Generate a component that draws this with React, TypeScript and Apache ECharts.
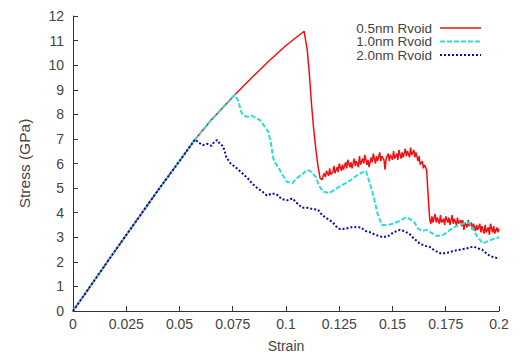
import React, { useEffect, useRef } from "react";
import * as echarts from "echarts";

// Shared elastic branch (strain, stress GPa)
const elastic: [number, number][] = [
  [0, 0], [0.01, 1.24], [0.02, 2.48], [0.03, 3.7], [0.04, 4.92], [0.05, 6.1],
  [0.0573, 6.98], [0.065, 7.78], [0.076, 8.8], [0.084, 9.5], [0.092, 10.17],
  [0.1, 10.8], [0.1085, 11.38],
];

// 0.5nm Rvoid after peak
const post05: [number, number][] = [
  [0.11, 10.6], [0.111, 9.6], [0.112, 8.4], [0.113, 7.4], [0.114, 6.6], [0.115, 5.9], [0.116, 5.4],
  [0.117, 5.35], [0.1178, 5.6], [0.1185, 5.45], [0.119, 5.7], [0.12, 5.5], [0.1205, 5.8], [0.121, 5.55],
  [0.122, 5.65], [0.1225, 5.9], [0.123, 5.6], [0.124, 5.85], [0.1245, 5.65], [0.125, 6.0], [0.126, 5.7],
  [0.1265, 5.95], [0.127, 5.75], [0.128, 6.05], [0.1285, 5.8], [0.129, 6.15], [0.13, 5.85], [0.1305, 6.05],
  [0.131, 5.8], [0.132, 6.2], [0.1325, 5.9], [0.133, 6.1], [0.134, 5.85], [0.1345, 6.3], [0.135, 5.95],
  [0.136, 6.2], [0.1365, 6.0], [0.137, 6.35], [0.138, 5.95], [0.1385, 6.15], [0.139, 5.85], [0.14, 6.25],
  [0.1405, 6.05], [0.141, 6.4], [0.142, 6.0], [0.1425, 6.3], [0.143, 6.1], [0.144, 6.45], [0.1445, 6.1],
  [0.145, 6.3], [0.146, 6.15], [0.1465, 5.75], [0.147, 6.2], [0.148, 6.4], [0.1485, 6.1], [0.149, 6.35],
  [0.15, 6.15], [0.1505, 6.5], [0.151, 6.2], [0.152, 6.4], [0.1525, 6.15], [0.153, 6.55], [0.154, 6.2],
  [0.1545, 6.45], [0.155, 6.25], [0.156, 6.6], [0.1565, 6.3], [0.157, 6.5], [0.158, 6.25], [0.1585, 6.65],
  [0.159, 6.35], [0.16, 6.55], [0.1605, 6.25], [0.161, 6.45], [0.162, 6.1], [0.1625, 6.3], [0.163, 5.95],
  [0.164, 6.1], [0.1645, 5.8], [0.165, 5.95], [0.166, 5.75], [0.1668, 4.6], [0.1675, 3.7],
  [0.168, 3.55], [0.1685, 3.85], [0.169, 3.6], [0.17, 3.95], [0.1705, 3.6], [0.171, 3.8], [0.172, 3.55],
  [0.1725, 3.9], [0.173, 3.6], [0.174, 3.75], [0.1745, 3.5], [0.175, 3.85], [0.176, 3.6], [0.1765, 3.8],
  [0.177, 3.5], [0.178, 3.9], [0.1785, 3.55], [0.179, 3.75], [0.18, 3.5], [0.1805, 3.8], [0.181, 3.55],
  [0.182, 3.7], [0.1825, 3.45], [0.183, 3.7], [0.1835, 3.3], [0.184, 3.6], [0.185, 3.4], [0.1855, 3.7],
  [0.186, 3.45], [0.187, 3.6], [0.1875, 3.3], [0.188, 3.55], [0.189, 3.25], [0.1895, 3.5], [0.19, 3.3],
  [0.191, 3.55], [0.1915, 3.2], [0.192, 3.45], [0.193, 3.15], [0.1935, 3.5], [0.194, 3.2], [0.195, 3.4],
  [0.1955, 3.1], [0.196, 3.55], [0.197, 3.2], [0.1975, 3.45], [0.198, 3.15], [0.199, 3.4], [0.1995, 3.2],
  [0.2, 3.35],
];

// 1.0nm Rvoid after leaving elastic branch
const post10: [number, number][] = [
  [0.0775, 8.55], [0.079, 8.1], [0.08, 7.95], [0.082, 7.9], [0.084, 7.95], [0.086, 7.85], [0.088, 7.75],
  [0.09, 7.5], [0.0916, 7.3], [0.0928, 6.9], [0.094, 6.2], [0.0955, 5.95], [0.097, 5.75], [0.099, 5.45],
  [0.1005, 5.25], [0.103, 5.2], [0.105, 5.4], [0.1075, 5.55], [0.11, 5.75], [0.112, 5.65], [0.114, 5.45],
  [0.1155, 5.1], [0.1175, 4.85], [0.1205, 4.8], [0.124, 5.0], [0.127, 5.15], [0.13, 5.3], [0.133, 5.5],
  [0.136, 5.65], [0.1375, 5.7], [0.139, 5.3], [0.141, 4.7], [0.143, 3.95], [0.145, 3.5], [0.148, 3.5],
  [0.15, 3.55], [0.153, 3.65], [0.156, 3.8], [0.158, 3.75], [0.16, 3.65], [0.162, 3.35], [0.164, 3.25],
  [0.166, 3.3], [0.168, 3.2], [0.171, 3.05], [0.174, 3.1], [0.177, 3.3], [0.18, 3.45], [0.183, 3.55],
  [0.186, 3.6], [0.188, 3.3], [0.19, 3.0], [0.1925, 2.75], [0.195, 2.85], [0.198, 2.95], [0.2, 3.0],
];

// 2.0nm Rvoid after leaving elastic branch
const post20: [number, number][] = [
  [0.059, 6.85], [0.061, 6.75], [0.063, 6.8], [0.065, 6.72], [0.0665, 6.9], [0.0678, 6.95], [0.069, 6.8],
  [0.0705, 6.7], [0.072, 6.25], [0.074, 6.0], [0.077, 5.8], [0.0795, 5.6], [0.082, 5.4], [0.084, 5.2],
  [0.0865, 5.0], [0.089, 4.85], [0.091, 4.7], [0.0935, 4.78], [0.0955, 4.75], [0.098, 4.55], [0.1005, 4.5],
  [0.103, 4.58], [0.105, 4.4], [0.1075, 4.2], [0.11, 4.2], [0.1125, 4.15], [0.115, 4.12], [0.117, 3.9],
  [0.1195, 3.75], [0.122, 3.6], [0.124, 3.4], [0.1255, 3.33], [0.128, 3.35], [0.1315, 3.42], [0.135, 3.4],
  [0.1375, 3.25], [0.1395, 3.2], [0.142, 3.1], [0.1455, 3.0], [0.148, 3.05], [0.1505, 3.2], [0.1535, 3.3],
  [0.1555, 3.25], [0.158, 3.13], [0.16, 2.95], [0.163, 2.73], [0.1655, 2.65], [0.1676, 2.6], [0.17, 2.45],
  [0.173, 2.33], [0.176, 2.38], [0.179, 2.45], [0.182, 2.5], [0.185, 2.55], [0.188, 2.62], [0.19, 2.55],
  [0.192, 2.5], [0.194, 2.35], [0.196, 2.22], [0.198, 2.18], [0.2, 2.13],
];

const seriesNames = ["0.5nm Rvoid", "1.0nm Rvoid", "2.0nm Rvoid"];
const splitStrain = [0.1085, 0.076, 0.0573];
const postData = [post05, post10, post20];
const colors = ["#f01010", "#30dcd8", "#0a0aa8"];
const dashes: any[] = ["solid", [5, 2], [2, 2]];
const lineWidths = [1.5, 2, 2];

const FONT = '"Liberation Sans", Arial, sans-serif';

export default function App() {
  const ref = useRef<HTMLDivElement>(null);
  useEffect(() => {
    if (!ref.current) return;
    const chart = echarts.init(ref.current, undefined, { renderer: "svg" });
    const series = seriesNames.map((name, i) => ({
      name,
      type: "line",
      showSymbol: false,
      symbol: "none",
      z: 2 + i,
      data: [...elastic.filter((p) => p[0] <= splitStrain[i] + 1e-9), ...postData[i]],
      lineStyle: { color: colors[i], width: lineWidths[i], type: dashes[i] },
      itemStyle: { color: colors[i] },
    }));
    const legendY = [28, 41.5, 55];
    const legendGraphics: any[] = [];
    seriesNames.forEach((name, i) => {
      legendGraphics.push({
        type: "text",
        x: 432,
        y: legendY[i],
        style: { text: name, align: "right", verticalAlign: "middle", font: `13.5px ${FONT}`, fill: "#444" },
      });
      legendGraphics.push({
        type: "line",
        shape: { x1: 440, y1: legendY[i], x2: 481, y2: legendY[i] },
        style: { stroke: colors[i], lineWidth: lineWidths[i], lineDash: dashes[i] === "solid" ? null : dashes[i] },
      });
    });
    const axisCommon = {
      axisLine: { show: true, lineStyle: { color: "#333", width: 1 } },
      axisTick: { show: true, inside: true, length: 5, lineStyle: { color: "#333" } },
      splitLine: { show: false },
    };
    chart.setOption({
      animation: false,
      backgroundColor: "#ffffff",
      grid: { left: 73, right: 23, top: 16, bottom: 43, containLabel: false },
      xAxis: {
        type: "value",
        min: 0,
        max: 0.2,
        interval: 0.025,
        name: "Strain",
        nameLocation: "middle",
        nameGap: 28,
        nameTextStyle: { color: "#444", fontSize: 14, fontFamily: FONT },
        ...axisCommon,
        axisLabel: {
          color: "#444",
          fontSize: 14,
          fontFamily: FONT,
          margin: 6,
          formatter: (v: number) => String(+v.toFixed(3)),
        },
      },
      yAxis: {
        type: "value",
        min: 0,
        max: 12,
        interval: 1,
        name: "Stress (GPa)",
        nameLocation: "middle",
        nameGap: 41,
        nameRotate: 90,
        nameTextStyle: { color: "#444", fontSize: 15.5, fontFamily: FONT },
        ...axisCommon,
        axisLabel: { color: "#444", fontSize: 14, fontFamily: FONT, margin: 9 },
      },
      series,
      graphic: legendGraphics,
    });
    return () => chart.dispose();
  }, []);
  return (
    <div
      ref={ref}
      style={{ position: "fixed", left: 0, top: 0, width: 522, height: 358, background: "#fff" }}
    />
  );
}
